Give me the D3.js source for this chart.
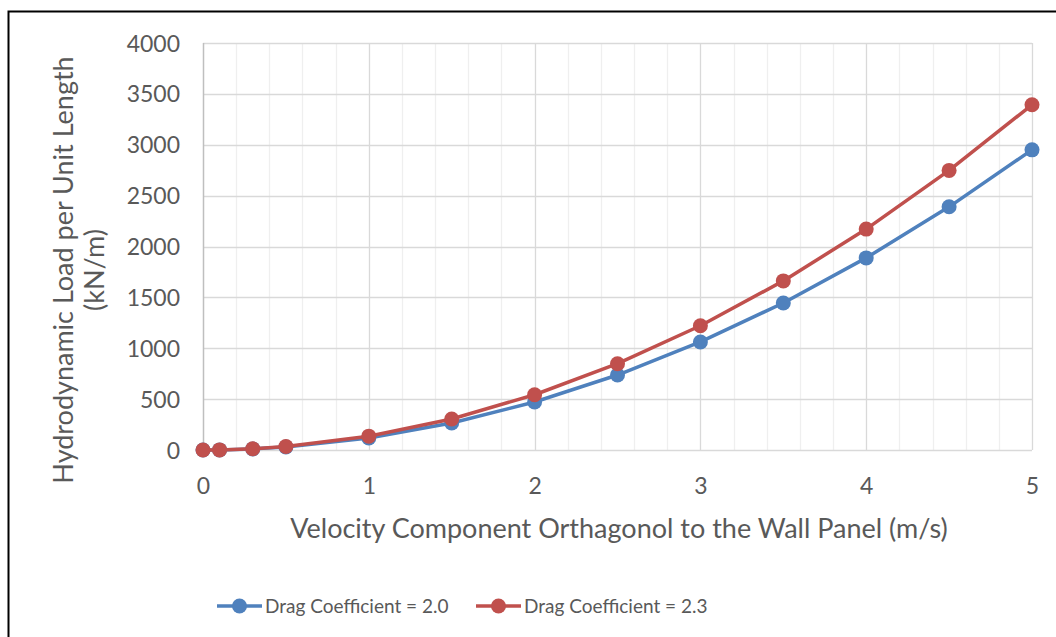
<!DOCTYPE html>
<html><head><meta charset="utf-8">
<script src="https://cdn.jsdelivr.net/npm/d3@7"></script>
<style>body{margin:0;background:#fff}svg{display:block}text{font-family:Lato,"Open Sans",sans-serif;fill:#595959}</style>
</head><body><svg id="c" width="1056" height="637"></svg>
<script>
const velocity = [0, 0.1, 0.3, 0.5, 1, 1.5, 2, 2.5, 3, 3.5, 4, 4.5, 5];
const loadCd20 = [0, 1, 11, 30, 118, 265, 472, 737, 1062, 1445, 1888, 2390, 2950];
const loadCd23 = [0, 1, 12, 34, 136, 305, 543, 848, 1221, 1662, 2171, 2748, 3393];
const seriesNames = ["Drag Coefficient = 2.0", "Drag Coefficient = 2.3"];
const seriesColors = ["#4F81BD", "#C0504D"];
const xTicks = [0, 1, 2, 3, 4, 5];
const yTicks = [0, 500, 1000, 1500, 2000, 2500, 3000, 3500, 4000];

const svg = d3.select("#c");
svg.append("rect").attr("x",0).attr("y",0).attr("width",1056).attr("height",637).attr("fill","#fff");
svg.append("path").attr("d","M8.5,637 V11.5 H1056").attr("fill","none").attr("stroke","#000").attr("stroke-width",2);

const x = d3.scaleLinear().domain([0,5]).range([203,1032]);
const y = d3.scaleLinear().domain([0,4000]).range([450,43]);

const g = svg.append("g");
const minor = d3.range(0,5.0001,0.2).filter(v=>Math.abs(v-Math.round(v))>1e-6);
g.selectAll(".mv").data(minor).join("line").attr("x1",d=>Math.round(x(d))+0.5).attr("x2",d=>Math.round(x(d))+0.5)
 .attr("y1",y(4000)).attr("y2",y(0)).attr("stroke","#efefef").attr("stroke-width",1.3);
g.selectAll(".Mv").data(xTicks.slice(1)).join("line").attr("x1",d=>Math.round(x(d))+0.5).attr("x2",d=>Math.round(x(d))+0.5)
 .attr("y1",y(4000)).attr("y2",y(0)).attr("stroke","#d9d9d9").attr("stroke-width",1.3);
g.selectAll(".h").data(yTicks).join("line").attr("x1",x(0)).attr("x2",x(5))
 .attr("y1",d=>Math.round(y(d))+0.5).attr("y2",d=>Math.round(y(d))+0.5).attr("stroke","#d9d9d9").attr("stroke-width",1.3);
g.append("line").attr("x1",x(0)+0.5).attr("x2",x(0)+0.5).attr("y1",y(4000)).attr("y2",y(0)).attr("stroke","#bfbfbf").attr("stroke-width",1.5);

const xAxis = d3.axisBottom(x).tickValues(xTicks).tickSize(0).tickPadding(0).tickFormat(d3.format("d"));
const xa = svg.append("g").attr("transform","translate(0,494)").call(xAxis);
xa.select(".domain").remove();
xa.selectAll("text").attr("font-size",23).attr("dy",0).style("font-family","Lato,sans-serif").attr("fill","#595959");
const yAxis = d3.axisLeft(y).tickValues(yTicks).tickSize(0).tickPadding(0).tickFormat(d3.format("d"));
const ya = svg.append("g").attr("transform","translate(180,0)").call(yAxis);
ya.select(".domain").remove();
ya.selectAll("text").attr("font-size",23).attr("dy","0.35em").style("font-family","Lato,sans-serif").attr("fill","#595959");

svg.append("text").attr("x",619).attr("y",538).attr("text-anchor","middle").attr("font-size",27)
 .text("Velocity Component Orthagonol to the Wall Panel (m/s)");
const yt = svg.append("text").attr("transform","translate(73,270) rotate(-90)").attr("text-anchor","middle").attr("font-size",27);
yt.append("tspan").attr("x",0).attr("y",0).text("Hydrodynamic Load per Unit Length");
yt.append("tspan").attr("x",0).attr("y",31).text("(kN/m)");

const series = [loadCd20, loadCd23];
const line = d3.line().x(d=>x(d[0])).y(d=>y(d[1]));
series.forEach((vals,i)=>{
  const pts = velocity.map((v,j)=>[v,vals[j]]);
  svg.append("path").datum(pts).attr("d",line).attr("fill","none").attr("stroke",seriesColors[i]).attr("stroke-width",3.5).attr("stroke-linejoin","round");
  svg.append("g").selectAll("circle").data(pts).join("circle").attr("cx",d=>x(d[0])).attr("cy",d=>y(d[1])).attr("r",7.5).attr("fill",seriesColors[i]);
});

const legendX = [217, 476];
seriesNames.forEach((n,i)=>{
  const lg = svg.append("g").attr("transform",`translate(${legendX[i]},606)`);
  lg.append("line").attr("x1",0).attr("x2",45).attr("y1",0).attr("y2",0).attr("stroke",seriesColors[i]).attr("stroke-width",3.5);
  lg.append("circle").attr("cx",22.5).attr("cy",0).attr("r",7.5).attr("fill",seriesColors[i]);
  lg.append("text").attr("x",48).attr("y",0).attr("dy","0.35em").attr("font-size",19).text(n);
});
</script></body></html>
